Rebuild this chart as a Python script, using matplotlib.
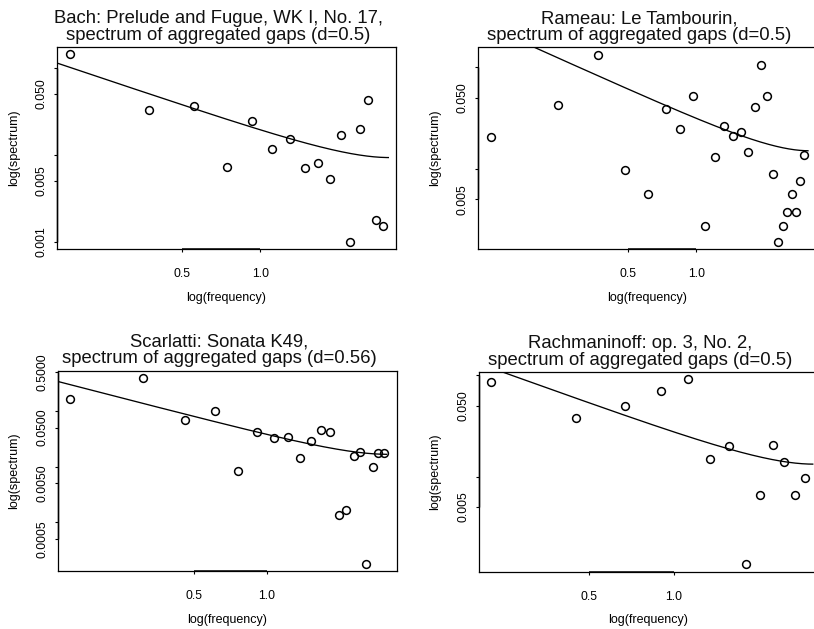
import numpy as np
import matplotlib
matplotlib.use("Agg")
import matplotlib.pyplot as plt
import matplotlib.transforms as mtransforms

plt.rcParams['font.family'] = ['Liberation Sans', 'DejaVu Sans']

# ---------------- data ----------------
bach_freq = [0.184, 0.371, 0.557, 0.742, 0.929, 1.115, 1.30, 1.49, 1.675, 1.858,
             2.05, 2.23, 2.42, 2.60, 2.80, 2.99]
bach_spec = [0.142, 0.0324, 0.0366, 0.00724, 0.0242, 0.0117, 0.0152, 0.00711, 0.00812,
             0.00531, 0.0171, 0.00101, 0.0200, 0.0426, 0.00179, 0.00153]
bach_d = 0.5
bach_scale = 0.0186

rameau_freq = [0.1225, 0.243, 0.365, 0.485, 0.609, 0.730, 0.849, 0.970, 1.092, 1.209,
               1.33, 1.452, 1.575, 1.687, 1.812, 1.932, 2.047, 2.177, 2.30, 2.41,
               2.53, 2.65, 2.77, 2.89, 3.01]
rameau_spec = [0.0206, 0.0421, 0.132, 0.00959, 0.00564, 0.0387, 0.0245, 0.0516, 0.00272,
               0.0129, 0.0265, 0.0211, 0.0228, 0.0147, 0.0402, 0.106, 0.0524, 0.00877,
               0.00191, 0.00272, 0.00370, 0.00564, 0.00375, 0.00759, 0.0137]
rameau_d = 0.5
rameau_scale = 0.030

scarlatti_freq = [0.1535, 0.306, 0.459, 0.612, 0.762, 0.912, 1.065, 1.221, 1.372, 1.523,
                  1.675, 1.83, 1.98, 2.13, 2.285, 2.43, 2.58, 2.735, 2.877, 3.048]
scarlatti_spec = [0.165, 0.385, 0.0695, 0.098, 0.00842, 0.0413, 0.0331, 0.0341, 0.01416,
                  0.0289, 0.0454, 0.0413, 0.00136, 0.00163, 0.0156, 0.0179, 0.000182,
                  0.0098, 0.0172, 0.0177]
scarlatti_d = 0.56
scarlatti_scale = 0.036

rach_freq = [0.224, 0.448, 0.673, 0.899, 1.124, 1.346, 1.574, 1.803, 2.034, 2.255,
             2.476, 2.709, 2.931]
rach_spec = [0.0866, 0.0381, 0.0497, 0.0702, 0.0913, 0.0148, 0.0200, 0.00136, 0.00656,
             0.0207, 0.0139, 0.00650, 0.00977]
rach_d = 0.5
rach_scale = 0.0265

titles = ["Bach: Prelude and Fugue, WK I, No. 17,\nspectrum of aggregated gaps (d=0.5)",
          "Rameau: Le Tambourin,\nspectrum of aggregated gaps (d=0.5)",
          "Scarlatti: Sonata K49,\nspectrum of aggregated gaps (d=0.56)",
          "Rachmaninoff: op. 3, No. 2,\nspectrum of aggregated gaps (d=0.5)"]

x_ticks = [0.5, 1.0]
x_ticklabels = ["0.5", "1.0"]

bach_yticks = [0.001, 0.005, 0.01, 0.05, 0.1]
bach_yticklabels = ["0.001", "0.005", "", "0.050", ""]
rameau_yticks = [0.005, 0.01, 0.05, 0.1]
rameau_yticklabels = ["0.005", "", "0.050", ""]
scarlatti_yticks = [0.0005, 0.001, 0.005, 0.01, 0.05, 0.1, 0.5]
scarlatti_yticklabels = ["0.0005", "", "0.0050", "", "0.0500", "", "0.5000"]
rach_yticks = [0.005, 0.01, 0.05, 0.1]
rach_yticklabels = ["0.005", "", "0.050", ""]

x_label = "log(frequency)"
y_label = "log(spectrum)"

# ---------------- layout ----------------
W, H = 814, 629
fig = plt.figure(figsize=(W / 100, H / 100), dpi=100)
fig.patch.set_facecolor("white")

# axes boxes in pixels: left, top, right, bottom
boxes = [(57, 47, 396, 249),
         (478, 47.5, 817, 249),
         (57.5, 370.7, 396.5, 571),
         (478.5, 372, 817.5, 571.5)]
right_column = [False, True, False, True]

panels = [
    (bach_freq, bach_spec, bach_d, bach_scale, bach_yticks, bach_yticklabels),
    (rameau_freq, rameau_spec, rameau_d, rameau_scale, rameau_yticks, rameau_yticklabels),
    (scarlatti_freq, scarlatti_spec, scarlatti_d, scarlatti_scale, scarlatti_yticks, scarlatti_yticklabels),
    (rach_freq, rach_spec, rach_d, rach_scale, rach_yticks, rach_yticklabels),
]


def r_lim(vals):
    lv = np.log10(vals)
    lo, hi = lv.min(), lv.max()
    pad = 0.04 * (hi - lo)
    return 10 ** (lo - pad), 10 ** (hi + pad)


for (l, t, r, b), (fr, sp, d, scale, yt, ytl), title, rc in zip(boxes, panels, titles, right_column):
    wpx, hpx = r - l, b - t
    ax = fig.add_axes([l / W, (H - b) / H, wpx / W, hpx / H])
    fr = np.asarray(fr)
    sp = np.asarray(sp)
    ax.set_xscale("log")
    ax.set_yscale("log")
    ax.set_xlim(*r_lim(fr))
    ax.set_ylim(*r_lim(sp))

    # fitted FARIMA(0,d,0) spectral density
    lam = np.linspace(0.05, np.pi, 400)
    fit = scale * (2 * np.sin(lam / 2)) ** (-2 * d)
    ax.plot(lam, fit, color="black", lw=0.95, solid_capstyle="butt")

    ax.plot(fr, sp, linestyle="none", marker="o", ms=5.6, mfc="none",
            mec="black", mew=1.1, clip_on=False)

    ax.xaxis.set_minor_locator(matplotlib.ticker.NullLocator())
    ax.yaxis.set_minor_locator(matplotlib.ticker.NullLocator())
    ax.set_xticks(x_ticks)
    ax.set_xticklabels(x_ticklabels)
    ax.set_yticks(yt)
    ax.set_yticklabels(ytl, rotation=90, va="center")
    ax.tick_params(axis="both", direction="out", length=2.5, width=0.8,
                   labelsize=8.8, colors="black")
    ax.tick_params(axis="x", pad=11.5)
    ax.tick_params(axis="y", pad=4)
    for s in ax.spines.values():
        s.set_linewidth(0.9)
        s.set_color("black")
    if rc:
        ax.spines["right"].set_visible(False)

    # R-style axis lines spanning first to last tick (subtle, over the box)
    tx = mtransforms.blended_transform_factory(ax.transData, ax.transAxes)
    ax.plot([x_ticks[0], x_ticks[-1]], [0, 0], transform=tx, color="black",
            lw=1.1, clip_on=False, solid_capstyle="butt")
    ty = mtransforms.blended_transform_factory(ax.transAxes, ax.transData)
    ylo, yhi = ax.get_ylim()
    vis = [v for v in yt if ylo <= v <= yhi]
    ax.plot([0, 0], [vis[0], vis[-1]], transform=ty, color="black",
            lw=1.05, clip_on=False, solid_capstyle="butt")

    ax.set_xlabel(x_label, fontsize=9)
    ax.set_ylabel(y_label, fontsize=9)
    ax.xaxis.set_label_coords(0.5, -43 / hpx)
    ax.yaxis.set_label_coords(-37 / wpx, 0.5)

    ax.annotate(title, xy=(0.5 - 8 / wpx, 1.0), xycoords="axes fraction",
                xytext=(0, 2.5), textcoords="offset points",
                ha="center", va="bottom", fontsize=13.3, linespacing=0.98,
                color="#111111")

fig.savefig("out.png", dpi=100)
